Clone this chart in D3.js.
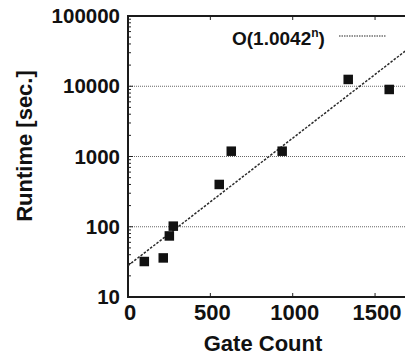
<!DOCTYPE html>
<html>
<head>
<meta charset="utf-8">
<script src="https://cdn.jsdelivr.net/npm/d3@7"></script>
<style>
  body { margin: 0; background: #fff; }
  text { font-family: "Liberation Sans", Arial, Helvetica, sans-serif; font-weight: bold; fill: #111; }
</style>
</head>
<body>
<svg id="chart" width="405" height="355"></svg>
<script>
"use strict";

// measured points
const gateCount = [99, 214, 251, 275, 554, 627, 936, 1337, 1586];
const runtimeSec = [32, 36, 74, 102, 400, 1190, 1190, 12500, 9000];

// fit line O(1.0042^n), end points
const fitGates = [0, 1700];
const fitRuntime = [28, 34000];

const xTicks = [0, 500, 1000, 1500];
const yTicks = [10, 100, 1000, 10000, 100000];
const gridValues = [100, 1000, 10000];

const svg = d3.select('#chart');
const plotLeft = 128, plotTop = 16, plotBottom = 297;

const x = d3.scaleLinear().domain([0, 1700]).range([plotLeft, 408]);
const y = d3.scaleLog().domain([10, 100000]).range([plotBottom, plotTop]);

// grid lines
svg.append('g')
   .selectAll('line')
   .data(gridValues)
   .enter()
   .append('line')
   .attr('x1', plotLeft).attr('x2', 405)
   .attr('y1', function(d){ return y(d); })
   .attr('y2', function(d){ return y(d); })
   .style('stroke', '#666')
   .style('stroke-width', 1)
   .style('stroke-dasharray', '1,1');

// minor ticks on the log axis
const minor = [];
for (let e = 1; e < 5; e++){
    for (let m = 2; m < 10; m++){
        minor.push(m * Math.pow(10, e));
    }
}
svg.append('g')
   .selectAll('line')
   .data(minor)
   .enter()
   .append('line')
   .attr('x1', plotLeft).attr('x2', plotLeft + 3)
   .attr('y1', function(d){ return y(d); })
   .attr('y2', function(d){ return y(d); })
   .style('stroke', '#222')
   .style('stroke-width', 1);

// major y ticks
svg.append('g')
   .selectAll('line')
   .data(yTicks)
   .enter()
   .append('line')
   .attr('x1', plotLeft).attr('x2', plotLeft + 5)
   .attr('y1', function(d){ return y(d); })
   .attr('y2', function(d){ return y(d); })
   .style('stroke', '#222')
   .style('stroke-width', 1);

// x ticks, bottom and top
svg.append('g')
   .selectAll('line')
   .data(xTicks.slice(1))
   .enter()
   .append('line')
   .attr('x1', function(d){ return x(d); })
   .attr('x2', function(d){ return x(d); })
   .attr('y1', plotBottom).attr('y2', plotBottom - 4)
   .style('stroke', '#222');
svg.append('g')
   .selectAll('line')
   .data(xTicks.slice(1))
   .enter()
   .append('line')
   .attr('x1', function(d){ return x(d); })
   .attr('x2', function(d){ return x(d); })
   .attr('y1', plotTop).attr('y2', plotTop + 4)
   .style('stroke', '#222');

// frame
svg.append('path')
   .attr('d', 'M405,' + plotTop + 'H' + plotLeft + 'V' + plotBottom + 'H405')
   .style('fill', 'none')
   .style('stroke', '#1a1a1a')
   .style('stroke-width', 2);

// fit line
const line = d3.line()
               .x(function(d){ return x(d[0]); })
               .y(function(d){ return y(d[1]); });
svg.append('path')
   .datum(d3.zip(fitGates, fitRuntime))
   .attr('d', line)
   .style('fill', 'none')
   .style('stroke', '#2a2a2a')
   .style('stroke-width', 1.5)
   .style('stroke-dasharray', '2.5,1.5');

// points
const sz = 9.5;
svg.append('g')
   .selectAll('rect')
   .data(d3.zip(gateCount, runtimeSec))
   .enter()
   .append('rect')
   .attr('x', function(d){ return x(d[0]) - sz / 2; })
   .attr('y', function(d){ return y(d[1]) - sz / 2; })
   .attr('width', sz)
   .attr('height', sz)
   .style('fill', '#111');

// tick labels
svg.append('g')
   .selectAll('text')
   .data(yTicks)
   .enter()
   .append('text')
   .attr('x', 120)
   .attr('y', function(d){ return y(d) + 7; })
   .attr('text-anchor', 'end')
   .style('font-size', '20.5px')
   .text(function(d){ return d; });

svg.append('g')
   .selectAll('text')
   .data(xTicks)
   .enter()
   .append('text')
   .attr('x', function(d){ return x(d) + 2; })
   .attr('y', 320)
   .attr('text-anchor', 'middle')
   .style('font-size', '22px')
   .text(function(d){ return d; });

// axis titles
svg.append('text')
   .attr('x', 263).attr('y', 351)
   .attr('text-anchor', 'middle')
   .style('font-size', '22px')
   .text('Gate Count');

svg.append('text')
   .attr('transform', 'translate(32,146) rotate(-90)')
   .attr('text-anchor', 'middle')
   .style('font-size', '22px')
   .text('Runtime [sec.]');

// legend
const leg = svg.append('text')
               .attr('x', 232).attr('y', 45)
               .style('font-size', '19px');
leg.append('tspan').text('O(1.0042');
leg.append('tspan').attr('dy', -8).style('font-size', '12px').text('n');
leg.append('tspan').attr('dy', 8).text(')');

svg.append('line')
   .attr('x1', 339).attr('x2', 386)
   .attr('y1', 36).attr('y2', 36)
   .style('stroke', '#2a2a2a')
   .style('stroke-width', 1.2)
   .style('stroke-dasharray', '1.5,1');
</script>
</body>
</html>
